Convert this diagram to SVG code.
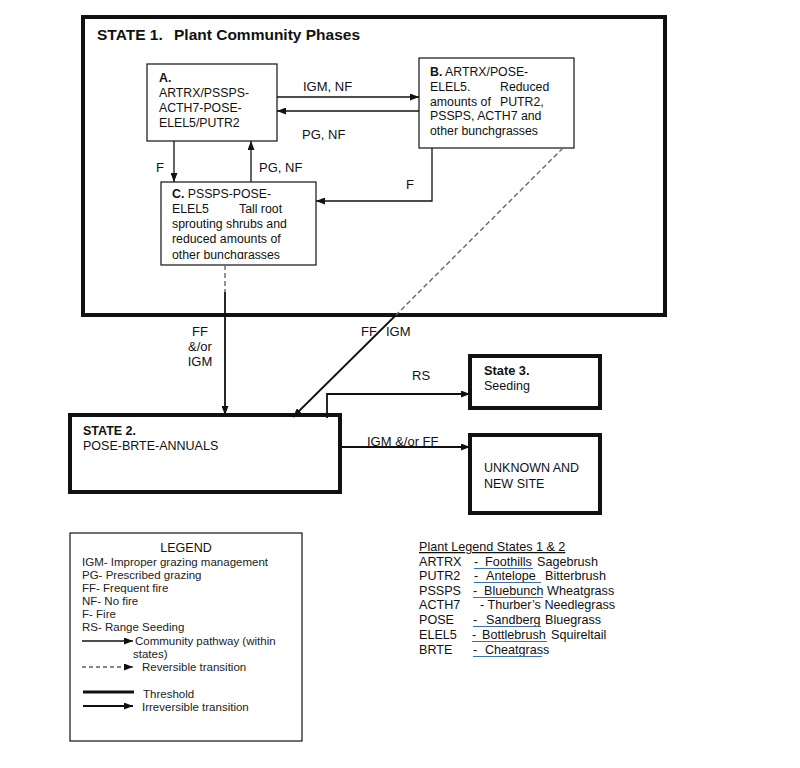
<svg xmlns="http://www.w3.org/2000/svg" width="800" height="768" viewBox="0 0 800 768">
<style>
text{font-family:"Liberation Sans",Arial,sans-serif;fill:#111}
.n{font-size:12.3px}
.b{font-weight:bold}
.lbl{font-size:13px}
.lg{font-size:11.5px;fill:#222}
.pl{font-size:12.6px}
.box{fill:#fff;stroke:#111;stroke-width:1.2}
.thick{fill:#fff;stroke:#111;stroke-width:4}
.ln{fill:none;stroke:#111;stroke-width:1.3}
.ln2{fill:none;stroke:#111;stroke-width:1.8}
.dash{fill:none;stroke:#666;stroke-width:1.4;stroke-dasharray:5 3}
.ul{stroke:#3d6fb0;stroke-width:1.2}
</style>
<defs>
<marker id="ah" markerWidth="9" markerHeight="7" refX="9" refY="3.5" orient="auto" markerUnits="userSpaceOnUse">
<path d="M0,0 L9,3.5 L0,7 Z" fill="#111"/>
</marker>
<clipPath id="cclip"><rect x="161" y="182" width="155" height="77"/></clipPath>
</defs>
<rect width="800" height="768" fill="#fff"/>

<g id="state1">
<rect class="thick" x="83" y="17" width="582" height="298"/>
<text x="97" y="40" class="b" style="font-size:15.5px">STATE 1.<tspan x="174">Plant Community Phases</tspan></text>
</g>

<g id="nodeA">
<rect class="box" x="147" y="64" width="130" height="77"/>
<text class="n" x="159" y="82"><tspan class="b">A.</tspan></text>
<text class="n" x="159" y="97">ARTRX/PSSPS-</text>
<text class="n" x="159" y="112">ACTH7-POSE-</text>
<text class="n" x="159" y="127">ELEL5/PUTR2</text>
</g>

<g id="nodeB">
<rect class="box" x="419" y="58" width="155" height="90"/>
<text class="n" x="430" y="76"><tspan class="b">B.</tspan> ARTRX/POSE-</text>
<text class="n" x="430" y="91">ELEL5.<tspan x="500">Reduced</tspan></text>
<text class="n" x="430" y="106">amounts of<tspan x="500">PUTR2,</tspan></text>
<text class="n" x="430" y="120">PSSPS, ACTH7 and</text>
<text class="n" x="430" y="135">other bunchgrasses</text>
</g>

<g id="nodeC">
<rect class="box" x="161" y="182" width="155" height="83"/>
<g clip-path="url(#cclip)">
<text class="n" x="172" y="198"><tspan class="b">C.</tspan> PSSPS-POSE-</text>
<text class="n" x="172" y="213">ELEL5<tspan x="239">Tall root</tspan></text>
<text class="n" x="172" y="228">sprouting shrubs and</text>
<text class="n" x="172" y="243">reduced amounts of</text>
<text class="n" x="172" y="259">other bunchgrasses</text>
</g>
</g>

<g id="state2">
<rect class="thick" x="70" y="415" width="270" height="77"/>
<text class="n b" x="83" y="435" style="font-size:12.5px">STATE 2.</text>
<text class="n" x="83" y="450" style="font-size:12.5px">POSE-BRTE-ANNUALS</text>
</g>

<g id="state3">
<rect class="thick" x="470" y="356" width="130" height="52"/>
<text class="b" x="484" y="375" style="font-size:12.8px">State 3.</text>
<text x="484" y="390" style="font-size:12.5px">Seeding</text>
</g>

<g id="unknown">
<rect class="thick" x="470" y="435" width="130" height="78"/>
<text x="484" y="472" style="font-size:12.5px">UNKNOWN AND</text>
<text x="484" y="488" style="font-size:12.5px">NEW SITE</text>
</g>

<g id="connectors">
<line class="ln" x1="277" y1="97" x2="419" y2="97" marker-end="url(#ah)"/>
<line class="ln" x1="419" y1="111" x2="277" y2="111" marker-end="url(#ah)"/>
<line class="ln" x1="174" y1="141" x2="174" y2="182" marker-end="url(#ah)"/>
<line class="ln" x1="251" y1="182" x2="251" y2="141" marker-end="url(#ah)"/>
<polyline class="ln" points="432,148 432,201 316,201" marker-end="url(#ah)"/>
<line class="dash" x1="225" y1="265" x2="225" y2="292"/>
<line class="ln2" x1="225" y1="292" x2="225" y2="415" marker-end="url(#ah)"/>
<line class="dash" x1="563" y1="148" x2="396" y2="315"/>
<line class="ln2" x1="396" y1="315" x2="293" y2="417" marker-end="url(#ah)"/>
<polyline class="ln2" points="327,418 327,394 470,394" marker-end="url(#ah)"/>
<line class="ln2" x1="340" y1="447" x2="470" y2="447" marker-end="url(#ah)"/>
<text class="lbl" x="303" y="91">IGM, NF</text>
<text class="lbl" x="302" y="139">PG, NF</text>
<text class="lbl" x="156" y="172">F</text>
<text class="lbl" x="259" y="172">PG, NF</text>
<text class="lbl" x="406" y="189">F</text>
<text class="lbl" x="200" y="336" text-anchor="middle">FF</text>
<text class="lbl" x="200" y="351" text-anchor="middle">&amp;/or</text>
<text class="lbl" x="200" y="366" text-anchor="middle">IGM</text>
<text class="lbl" x="361" y="336">FF</text>
<text class="lbl" x="386" y="336">IGM</text>
<text class="lbl" x="412" y="380">RS</text>
<text class="lbl" x="367" y="446">IGM &amp;/or FF</text>
</g>

<g id="legend">
<rect class="box" x="70" y="533" width="232" height="208"/>
<text x="186" y="552" text-anchor="middle" style="font-size:12.5px">LEGEND</text>
<text class="lg" x="82" y="566">IGM- Improper grazing management</text>
<text class="lg" x="82" y="579">PG- Prescribed grazing</text>
<text class="lg" x="82" y="592">FF- Frequent fire</text>
<text class="lg" x="82" y="605">NF- No fire</text>
<text class="lg" x="82" y="618">F- Fire</text>
<text class="lg" x="82" y="631">RS- Range Seeding</text>
<line class="ln" x1="82" y1="641" x2="133" y2="641" marker-end="url(#ah)"/>
<text class="lg" x="135" y="645">Community pathway (within</text>
<text class="lg" x="133" y="658">states)</text>
<line x1="82" y1="667" x2="133" y2="667" stroke="#111" stroke-width="1.2" stroke-dasharray="4 3" marker-end="url(#ah)"/>
<text class="lg" x="142" y="671">Reversible transition</text>
<line x1="83" y1="692" x2="134" y2="692" stroke="#111" stroke-width="3"/>
<text class="lg" x="143" y="698">Threshold</text>
<line class="ln2" x1="83" y1="706" x2="133" y2="706" marker-end="url(#ah)"/>
<text class="lg" x="142" y="711">Irreversible transition</text>
</g>

<g id="plant-legend">
<text class="pl" x="419" y="551" text-decoration="underline">Plant Legend States 1 &amp; 2</text>
<text class="pl" x="419" y="566">ARTRX</text>
<text class="pl" x="474" y="566">-</text><text class="pl" x="485" y="566">Foothills</text><text class="pl" x="537" y="566">Sagebrush</text>
<line class="ul" x1="474" y1="568.5" x2="533" y2="568.5"/>
<text class="pl" x="419" y="580">PUTR2</text>
<text class="pl" x="474" y="580">-</text><text class="pl" x="486" y="580">Antelope</text><text class="pl" x="545" y="580">Bitterbrush</text>
<line class="ul" x1="474" y1="582.5" x2="541" y2="582.5"/>
<text class="pl" x="419" y="595">PSSPS</text>
<text class="pl" x="473" y="595">-</text><text class="pl" x="484" y="595">Bluebunch</text><text class="pl" x="547" y="595">Wheatgrass</text>
<line class="ul" x1="473" y1="597.5" x2="543" y2="597.5"/>
<text class="pl" x="419" y="609">ACTH7</text>
<text class="pl" x="480" y="609">- Thurber’s Needlegrass</text>
<text class="pl" x="419" y="624">POSE</text>
<text class="pl" x="473" y="624">-</text><text class="pl" x="486" y="624">Sandberg</text><text class="pl" x="545" y="624">Bluegrass</text>
<line class="ul" x1="473" y1="626.5" x2="541" y2="626.5"/>
<text class="pl" x="419" y="639">ELEL5</text>
<text class="pl" x="472" y="639">-</text><text class="pl" x="482" y="639">Bottlebrush</text><text class="pl" x="551" y="639">Squireltail</text>
<line class="ul" x1="472" y1="641.5" x2="547" y2="641.5"/>
<text class="pl" x="419" y="654">BRTE</text>
<text class="pl" x="473" y="654">-</text><text class="pl" x="485" y="654">Cheatgrass</text>
<line class="ul" x1="473" y1="656.5" x2="542" y2="656.5"/>
</g>
</svg>
